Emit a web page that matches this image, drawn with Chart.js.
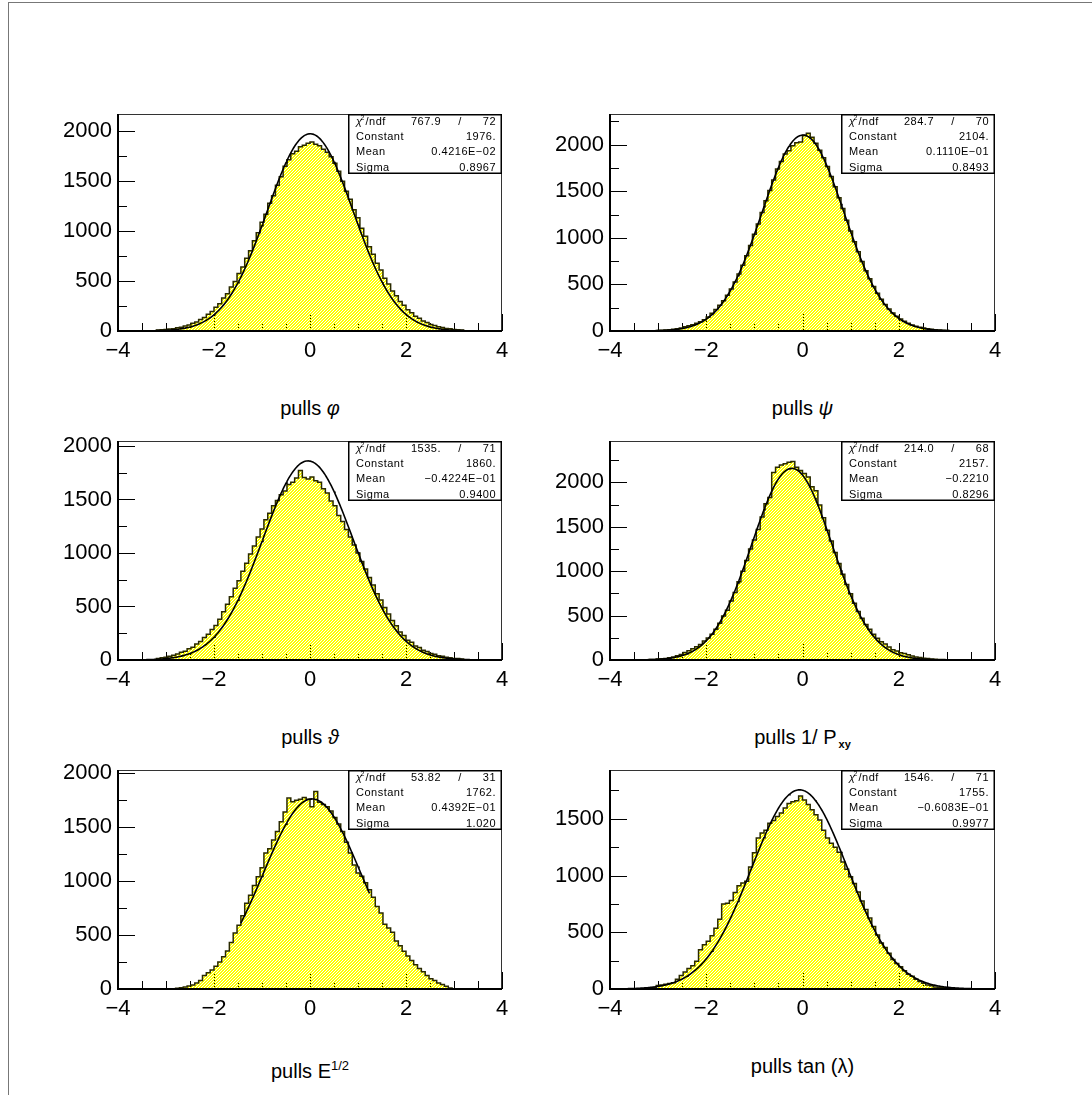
<!DOCTYPE html>
<html>
<head>
<meta charset="utf-8">
<script src="https://cdn.jsdelivr.net/npm/chart.js@4.4.1/dist/chart.umd.min.js"></script>
<style>
  html, body { margin: 0; padding: 0; background: #fff; }
  body { width: 1092px; height: 1095px; position: relative; overflow: hidden;
         font-family: "Liberation Sans", Arial, sans-serif; }
  #frame { position: absolute; left: 8px; top: 2px; width: 1100px; height: 1100px;
           border-left: 1px solid #777; border-top: 1px solid #777; }
  .panel { position: absolute; }
  .title { position: absolute; font-size: 20px; line-height: 24px; color: #000;
           white-space: nowrap; transform: translateX(-50%); }
  .title sub { font-size: 11px; font-weight: bold; vertical-align: -4px; margin-left: 2px; }
  .title sup { font-size: 13px; vertical-align: 8px; }
</style>
</head>
<body>
<div id="frame"></div>

<script>
// histogrammes des pulls : 100 canaux de -4 a 4, seuls les canaux de -3.2 a 3.2 sont stockes
const xMin = -4, xMax = 4;
const binLow = -3.2;
const binWidth = 0.08;

const countsPhi = [
  9, 12, 14, 20, 23, 33, 38, 51, 60, 78,
  90, 116, 135, 168, 195, 238, 272, 330, 372, 441,
  495, 575, 640, 730, 805, 905, 985, 1090, 1170, 1280,
  1355, 1460, 1545, 1650, 1715, 1775, 1800, 1845, 1862, 1880,
  1893, 1870, 1855, 1820, 1790, 1745, 1680, 1600, 1500, 1400,
  1320, 1215, 1135, 1030, 948, 845, 770, 678, 610, 528,
  470, 400, 352, 296, 258, 212, 184, 148, 127, 100,
  86, 66, 56, 43, 36, 26, 22, 16, 13, 10
];
const countsPsi = [
  3, 4, 5, 7, 10, 13, 18, 24, 33, 45,
  56, 66, 82, 100, 122, 150, 190, 232, 276, 325,
  385, 452, 525, 612, 705, 808, 918, 1040, 1150, 1272,
  1398, 1508, 1622, 1740, 1820, 1900, 1935, 1990, 2020, 2030,
  2100, 2122, 2080, 2015, 1940, 1860, 1765, 1660, 1548, 1430,
  1315, 1190, 1075, 958, 850, 745, 648, 560, 478, 405,
  342, 285, 236, 192, 158, 128, 104, 82, 64, 52,
  40, 31, 24, 18, 13, 10, 7, 5, 4, 3
];
const countsTheta = [
  15, 20, 26, 34, 45, 55, 72, 82, 105, 120,
  150, 172, 210, 240, 285, 322, 380, 450, 520, 590,
  670, 740, 830, 905, 990, 1065, 1150, 1225, 1310, 1370,
  1440, 1490, 1545, 1580, 1640, 1660, 1700, 1770, 1705, 1690,
  1710, 1675, 1660, 1600, 1560, 1485, 1440, 1350, 1295, 1220,
  1150, 1075, 1000, 920, 850, 770, 700, 620, 560, 490,
  430, 370, 320, 262, 228, 185, 165, 130, 116, 90,
  80, 60, 54, 40, 35, 25, 22, 15, 13, 9
];
const countsInvPxy = [
  5, 7, 10, 14, 18, 25, 34, 48, 62, 85,
  105, 128, 150, 175, 215, 248, 290, 345, 415, 495,
  560, 665, 760, 880, 1000, 1120, 1250, 1350, 1470, 1610,
  1760, 1830, 2110, 2170, 2195, 2210, 2225, 2235, 2170, 2132,
  2100, 2060, 1950, 1905, 1745, 1600, 1460, 1340, 1210, 1085,
  965, 850, 745, 640, 545, 470, 400, 345, 290, 245,
  205, 180, 145, 115, 100, 82, 72, 58, 44, 34,
  28, 21, 16, 12, 9, 7, 5, 4, 3, 2
];
const countsSqrtE = [
  0, 0, 0, 0, 2, 6, 12, 18, 28, 36,
  55, 78, 125, 150, 175, 210, 250, 300, 352, 430,
  520, 590, 680, 795, 870, 960, 1040, 1125, 1260, 1300,
  1380, 1460, 1550, 1640, 1770, 1735, 1750, 1760, 1775, 1760,
  1690, 1830, 1730, 1710, 1690, 1650, 1590, 1530, 1460, 1360,
  1260, 1150, 1075, 1045, 985, 920, 850, 765, 705, 600,
  565, 525, 445, 400, 350, 305, 265, 225, 190, 160,
  125, 95, 78, 55, 42, 25, 10, 0, 0, 0
];
const countsTanL = [
  8, 14, 30, 36, 42, 48, 55, 85, 120, 150,
  180, 205, 245, 345, 390, 420, 470, 535, 615, 750,
  755, 780, 850, 910, 935, 950, 1075, 1200, 1330, 1375,
  1400, 1460, 1485, 1520, 1550, 1595, 1635, 1650, 1660, 1700,
  1665, 1625, 1580, 1535, 1490, 1400, 1330, 1285, 1250, 1205,
  1120, 1055, 990, 930, 855, 775, 700, 625, 550, 475,
  405, 365, 315, 260, 225, 195, 160, 130, 112, 85,
  65, 50, 36, 28, 18, 14, 10, 7, 5, 3
];

// resultats des ajustements gaussiens (tels qu'affiches dans les boites)
const chi2 = ['767.9', '284.7', '1535.', '214.0', '53.82', '1546.'];
const ndf = ['72', '70', '71', '68', '31', '71'];
const constants = ['1976.', '2104.', '1860.', '2157.', '1762.', '1755.'];
const means = ['0.4216E-02', '0.1110E-01', '-0.4224E-01', '-0.2210', '0.4392E-01', '-0.6083E-01'];
const sigmas = ['0.8967', '0.8493', '0.9400', '0.8296', '1.020', '0.9977'];
const fitRanges = [[-4, 4], [-4, 4], [-4, 4], [-4, 4], [-1.44, 1.24], [-4, 4]];

const yMax = [2174, 2330, 2046, 2465, 2030, 1930];
const yMajorStep = 500;
const yMinorStep = 250;
const xMajorStep = 2;
const xMinorStep = 0.5;

const titles = [
  'pulls <i>&#966;</i>',
  'pulls <i>&#968;</i>',
  'pulls <i>&#977;</i>',
  'pulls 1/ P<sub>xy</sub>',
  'pulls E<sup>1/2</sup>',
  'pulls tan (&#955;)'
];
const allCounts = [countsPhi, countsPsi, countsTheta, countsInvPxy, countsSqrtE, countsTanL];

// mise en page (pixels)
const colLeft = [118, 610];
const plotW = [384, 385];
const rowTop = [114, 441, 770];
const plotH = [217, 219, 219];
const axisW = 110, axisH = 40, padTop = 10, padRight = 10;
const FONT = '"Liberation Sans", Arial, sans-serif';

function minus(s) { return s.replace(/-/g, '\u2212'); }

// motif jaune avec des trous (les graduations restent visibles en pointilles)
function makePattern() {
  const c = document.createElement('canvas');
  c.width = 3; c.height = 3;
  const g = c.getContext('2d');
  g.fillStyle = '#ffff00';
  g.fillRect(0, 0, 3, 3);
  g.clearRect(0, 0, 1, 1);
  g.clearRect(1, 2, 1, 1);
  g.clearRect(2, 1, 1, 1);
  return g.createPattern(c, 'repeat');
}

function histPoints(counts) {
  const pts = [{ x: xMin, y: 0 }];
  counts.forEach((v, i) => pts.push({ x: binLow + i * binWidth, y: v }));
  pts.push({ x: binLow + counts.length * binWidth, y: 0 });
  pts.push({ x: xMax, y: 0 });
  return pts;
}

// courbe de l'ajustement gaussien a partir des parametres affiches
function fitPoints(i) {
  const C = parseFloat(constants[i]), m = parseFloat(means[i]), s = parseFloat(sigmas[i]);
  const [a, b] = fitRanges[i];
  const pts = [];
  const n = Math.round((b - a) / 0.02);
  for (let k = 0; k <= n; k++) {
    const x = a + (b - a) * k / n;
    pts.push({ x: x, y: C * Math.exp(-0.5 * ((x - m) / s) ** 2) });
  }
  return pts;
}

function line(ctx, x1, y1, x2, y2) {
  ctx.beginPath(); ctx.moveTo(x1, y1); ctx.lineTo(x2, y2); ctx.stroke();
}

const panelPlugin = {
  id: 'pawPanel',
  beforeDatasetsDraw(chart) {
    // graduations vers l'interieur
    const { ctx, chartArea: a, scales: { x: xs, y: ys } } = chart;
    ctx.save();
    ctx.strokeStyle = '#000';
    ctx.lineWidth = 1;
    for (let v = 0; v <= ys.max; v += yMinorStep) {
      const y = Math.round(ys.getPixelForValue(v)) + 0.5;
      line(ctx, a.left, y, a.left + (v % yMajorStep === 0 ? 17 : 9), y);
    }
    for (let v = xMin; v <= xMax + 1e-9; v += xMinorStep) {
      const x = Math.round(xs.getPixelForValue(v)) + 0.5;
      line(ctx, x, a.bottom, x, a.bottom - (Math.abs(v % xMajorStep) < 1e-9 ? 17 : 8));
    }
    ctx.restore();
  },
  afterDatasetsDraw(chart) {
    const { ctx, chartArea: a, scales: { x: xs, y: ys } } = chart;
    const i = chart.options.panelIndex;
    ctx.save();
    // cadre
    ctx.strokeStyle = '#333';
    ctx.lineWidth = 1;
    line(ctx, a.left, a.top + 0.5, a.right, a.top + 0.5);
    line(ctx, a.right - 0.5, a.top, a.right - 0.5, a.bottom);
    ctx.strokeStyle = '#000';
    ctx.lineWidth = 2;
    line(ctx, a.left, a.bottom, a.right, a.bottom);
    line(ctx, a.left, a.top, a.left, a.bottom + 1);

    // etiquettes des axes
    ctx.fillStyle = '#000';
    ctx.font = '22px ' + FONT;
    ctx.textBaseline = 'middle';
    ctx.textAlign = 'right';
    for (let v = 0; v <= ys.max; v += yMajorStep) {
      ctx.fillText(String(v), a.left - 6, ys.getPixelForValue(v));
    }
    ctx.textAlign = 'center';
    for (let v = xMin; v <= xMax; v += xMajorStep) {
      ctx.fillText(v < 0 ? '\u2212' + Math.abs(v) : String(v), xs.getPixelForValue(v), a.bottom + 20);
    }

    // boite de statistiques
    const w = 154, h = 60;
    const x0 = a.right - w, y0 = a.top;
    ctx.fillStyle = '#fff';
    ctx.fillRect(x0, y0, w, h);
    ctx.lineWidth = 1.5;
    ctx.strokeRect(x0 + 0.75, y0 + 0.75, w - 1.5, h - 1.5);
    ctx.fillStyle = '#000';
    ctx.textBaseline = 'middle';
    ctx.letterSpacing = '0.5px';
    const rowY = k => y0 + 8 + 15.2 * k;
    const lx = x0 + 8, rx = a.right - 6;
    ctx.font = 'italic 11px ' + FONT;
    ctx.textAlign = 'left';
    ctx.fillText('\u03c7', lx, rowY(0));
    const cw = ctx.measureText('\u03c7').width;
    ctx.font = '7px ' + FONT;
    ctx.fillText('2', lx + cw - 2, rowY(0) - 4);
    ctx.font = '11px ' + FONT;
    ctx.fillText('/ndf', lx + cw + 3, rowY(0));
    ctx.fillText('Constant', lx, rowY(1));
    ctx.fillText('Mean', lx, rowY(2));
    ctx.fillText('Sigma', lx, rowY(3));
    ctx.textAlign = 'right';
    ctx.fillText(chi2[i], x0 + 93, rowY(0));
    ctx.fillText(ndf[i], rx, rowY(0));
    ctx.fillText(constants[i], rx, rowY(1));
    ctx.fillText(minus(means[i]), rx, rowY(2));
    ctx.fillText(minus(sigmas[i]), rx, rowY(3));
    ctx.textAlign = 'center';
    ctx.fillText('/', x0 + 112, rowY(0));
    ctx.restore();
  }
};

const pattern = makePattern();

allCounts.forEach((counts, i) => {
  const col = i % 2, row = Math.floor(i / 2);
  const L = colLeft[col], T = rowTop[row], W = plotW[col], H = plotH[row];
  const div = document.createElement('div');
  div.className = 'panel';
  div.style.left = (L - axisW) + 'px';
  div.style.top = (T - padTop) + 'px';
  const cv = document.createElement('canvas');
  cv.width = axisW + W + padRight;
  cv.height = padTop + H + axisH;
  div.appendChild(cv);
  document.body.appendChild(div);

  const t = document.createElement('div');
  t.className = 'title';
  t.innerHTML = titles[i];
  t.style.left = (L + W / 2) + 'px';
  t.style.top = (T + H + 65) + 'px';
  document.body.appendChild(t);

  new Chart(cv.getContext('2d'), {
    type: 'line',
    data: {
      datasets: [
        {
          data: histPoints(counts),
          stepped: 'before',
          borderColor: '#2a2a00',
          borderWidth: 1.5,
          backgroundColor: pattern,
          fill: 'origin',
          pointRadius: 0,
          order: 2
        },
        {
          data: fitPoints(i),
          borderColor: '#000',
          borderWidth: 1.6,
          pointRadius: 0,
          fill: false,
          tension: 0,
          order: 1
        }
      ]
    },
    options: {
      panelIndex: i,
      responsive: false,
      animation: false,
      devicePixelRatio: 1,
      layout: { padding: { top: padTop, right: padRight, left: 0, bottom: 0 } },
      plugins: { legend: { display: false }, tooltip: { enabled: false } },
      scales: {
        x: {
          type: 'linear', min: xMin, max: xMax,
          grid: { display: false, drawTicks: false },
          border: { display: false },
          ticks: { display: false },
          afterFit: s => { s.height = axisH; }
        },
        y: {
          min: 0, max: yMax[i],
          grid: { display: false, drawTicks: false },
          border: { display: false },
          ticks: { display: false },
          afterFit: s => { s.width = axisW; }
        }
      }
    },
    plugins: [panelPlugin]
  });
});
</script>
</body>
</html>
